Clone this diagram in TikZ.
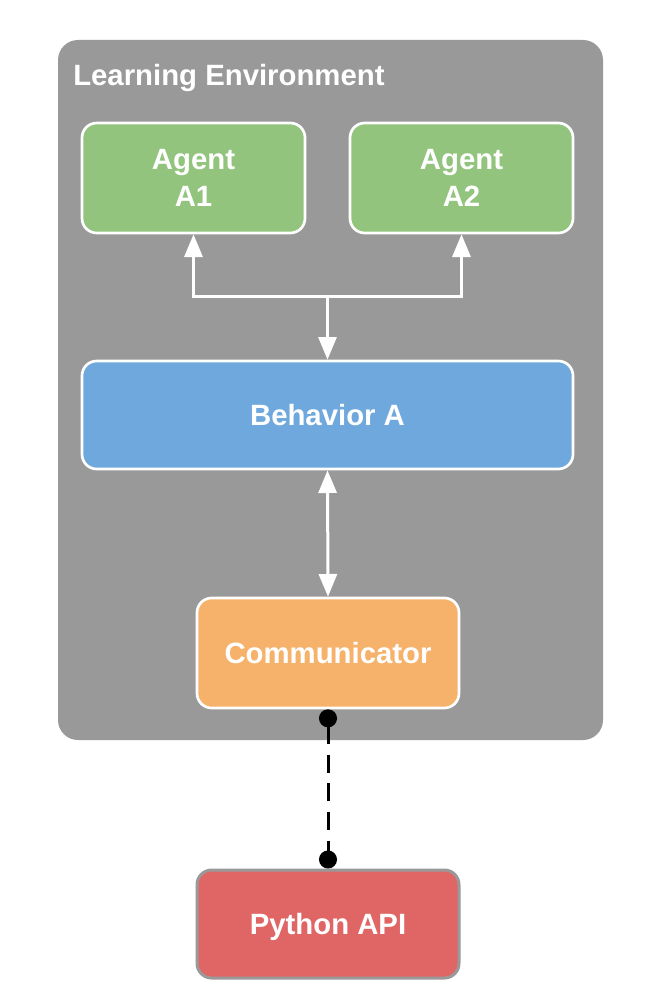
\documentclass[tikz,border=0pt]{standalone}
\usepackage{fontspec}
\setmainfont{Liberation Sans}
\usetikzlibrary{arrows.meta}
\definecolor{envgray}{HTML}{999999}
\definecolor{agentgreen}{HTML}{93C47D}
\definecolor{behblue}{HTML}{6FA8DC}
\definecolor{commorange}{HTML}{F6B26B}
\definecolor{apired}{HTML}{E06666}
\tikzset{
  box/.style={rounded corners=11pt, inner sep=0pt, align=center, text=white,
    font=\fontsize{22pt}{27.75pt}\selectfont\bfseries},
  innerbox/.style={box, draw=white, line width=2pt},
  oneline/.style={text height=15.75pt, text depth=0pt},
  wirearrow/.style={draw=white, line width=2.25pt,
    {Triangle[length=17pt,width=13.5pt]}-{Triangle[length=17pt,width=13.5pt]}},
  wiresingle/.style={draw=white, line width=2.25pt, -{Triangle[length=17pt,width=13.5pt]}},
  dashlink/.style={draw=black, line width=2.25pt, dash pattern=on 13.5pt off 8pt,
    {Circle[length=13.5pt]}-{Circle[length=13.5pt]}}
}
\begin{document}
\begin{tikzpicture}[x=0.75pt,y=-0.75pt]
\useasboundingbox[fill=white] (0,0) rectangle (646,1002);
% environment
\node[box, fill=envgray, rounded corners=15pt, minimum width=408.75pt, minimum height=525pt] (env) at (330.5,390) {};
\node[anchor=base west, text=white, font=\fontsize{22pt}{26pt}\selectfont\bfseries, inner sep=0pt] (title) at (73,86) {Learning Environment};
% agents
\node[innerbox, fill=agentgreen, minimum width=167.25pt, minimum height=82.5pt] (a1) at (193.5,178) {Agent\\A1};
\node[innerbox, fill=agentgreen, minimum width=167.25pt, minimum height=82.5pt] (a2) at (461.5,178) {Agent\\A2};
% behavior
\node[innerbox, oneline, fill=behblue, minimum width=368.25pt, minimum height=81pt] (beh) at (327.5,415) {Behavior A};
% communicator
\node[innerbox, oneline, fill=commorange, minimum width=196.5pt, minimum height=82.5pt] (comm) at (328,653) {Communicator};
% python api
\node[box, oneline, fill=apired, draw=envgray, line width=2.25pt, minimum width=196.5pt, minimum height=81pt] (api) at (328,924) {Python API};
% connectors
\coordinate (j) at (327.5,296);
\draw[wirearrow] (a1.south) |- (j) -| (a2.south);
\draw[wiresingle] (j) -- (beh.north);
\draw[wirearrow] (beh.south) -- (comm.north);
\draw[dashlink] (comm.south) -- (api.north);
\end{tikzpicture}
\end{document}
